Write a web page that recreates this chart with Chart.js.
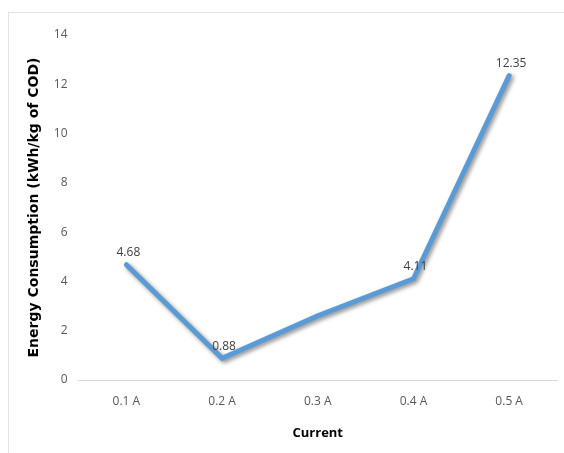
<!DOCTYPE html>
<html>
<head>
<meta charset="utf-8">
<script src="https://cdn.jsdelivr.net/npm/chart.js@4/dist/chart.umd.min.js"></script>
<style>
  html, body { margin: 0; padding: 0; background: #fff; }
  #frame { position: absolute; left: 8px; top: 12px; width: 560px; height: 445px;
           border-top: 1px solid #e3e3e3; border-left: 1px solid #e3e3e3; }
  #wrap { position: absolute; left: 0; top: 0; width: 564px; height: 453px; }
</style>
</head>
<body>
<div id="frame"></div>
<div id="wrap"><canvas id="chart" width="564" height="453"></canvas></div>
<script>
const categories = ['0.1 A', '0.2 A', '0.3 A', '0.4 A', '0.5 A'];
const energy = [4.68, 0.88, 2.6, 4.11, 12.35];
const pointLabels = ['4.68', '0.88', '', '4.11', '12.35'];
const yTicks = [0, 2, 4, 6, 8, 10, 12, 14];

const FONT = "'Open Sans', sans-serif";

const shadowPlugin = {
  id: 'lineShadow',
  beforeDatasetDraw(chart) {
    const ctx = chart.ctx;
    ctx.save();
    ctx.shadowColor = 'rgba(0,0,0,0.45)';
    ctx.shadowBlur = 4;
    ctx.shadowOffsetX = 2;
    ctx.shadowOffsetY = 2;
  },
  afterDatasetDraw(chart) {
    chart.ctx.restore();
  }
};

const labelPlugin = {
  id: 'pointLabels',
  afterDatasetsDraw(chart) {
    const ctx = chart.ctx;
    const meta = chart.getDatasetMeta(0);
    ctx.save();
    ctx.font = '12px ' + FONT;
    ctx.fillStyle = '#404040';
    ctx.textAlign = 'center';
    ctx.textBaseline = 'bottom';
    meta.data.forEach((pt, i) => {
      if (!pointLabels[i]) return;
      ctx.fillText(pointLabels[i], pt.x + 2, pt.y - 6);
    });
    ctx.restore();
  }
};

new Chart(document.getElementById('chart'), {
  type: 'line',
  data: {
    labels: categories,
    datasets: [{
      data: energy,
      borderColor: '#5b9bd5',
      borderWidth: 5,
      pointRadius: 0,
      tension: 0,
      borderCapStyle: 'round',
      borderJoinStyle: 'miter',
      fill: false,
    }],
  },
  options: {
    responsive: false,
    animation: false,
    layout: { padding: { left: 26, right: 7, top: 35, bottom: 8 } },
    plugins: { legend: { display: false }, tooltip: { enabled: false } },
    scales: {
      x: {
        offset: true,
        grid: { display: false, drawTicks: false },
        border: { display: true, color: '#d9d9d9', width: 1 },
        ticks: { color: '#595959', font: { family: FONT, size: 12 }, padding: 14 },
        title: { display: true, text: 'Current', color: '#000', font: { family: FONT, size: 13, weight: 'bold' }, padding: { top: 3 } },
      },
      y: {
        min: 0,
        max: 14,
        afterBuildTicks: (axis) => { axis.ticks = yTicks.map(v => ({ value: v })); },
        grid: { display: false, drawTicks: false },
        border: { display: false },
        ticks: { color: '#595959', font: { family: FONT, size: 12 }, padding: 11 },
        title: { display: true, text: 'Energy Consumption (kWh/kg of COD)', color: '#000', font: { family: 'DejaVu Sans', size: 14, weight: 'bold' }, padding: { top: 0, bottom: 0 } },
      },
    },
  },
  plugins: [shadowPlugin, labelPlugin],
});
</script>
</body>
</html>
